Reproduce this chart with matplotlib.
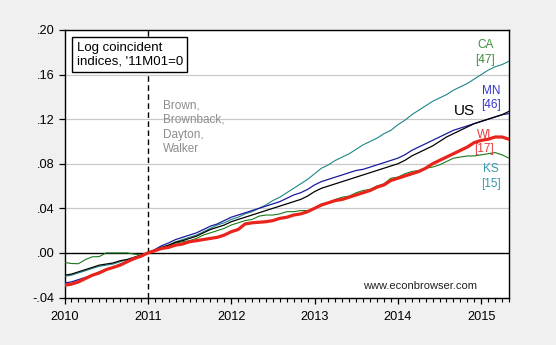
import matplotlib
matplotlib.use("Agg")
import matplotlib.pyplot as plt
from matplotlib.ticker import MultipleLocator, FixedLocator, FuncFormatter
import numpy as np

# Monthly observations 2010M01 .. 2015M05 (65 months)
start_year = 2010
n_months = 65

us = [-0.020, -0.019, -0.017, -0.015, -0.013, -0.011, -0.010, -0.009, -0.007, -0.006, -0.004, -0.002,
      0.000, 0.0025, 0.005, 0.007, 0.0095, 0.011, 0.013, 0.015, 0.018, 0.021, 0.023, 0.025,
      0.028, 0.030, 0.032, 0.034, 0.036, 0.038, 0.040, 0.042, 0.044, 0.046, 0.048, 0.051,
      0.055, 0.058, 0.060, 0.062, 0.064, 0.066, 0.068, 0.070, 0.072, 0.074, 0.076, 0.078,
      0.080, 0.083, 0.087, 0.090, 0.093, 0.096, 0.100, 0.104, 0.107, 0.110, 0.113, 0.116,
      0.118, 0.120, 0.122, 0.124, 0.127]

mn = [-0.027, -0.026, -0.024, -0.022, -0.020, -0.017, -0.015, -0.013, -0.010, -0.008, -0.006, -0.003,
      0.000, 0.003, 0.0065, 0.009, 0.012, 0.014, 0.016, 0.018, 0.021, 0.024, 0.026, 0.029,
      0.032, 0.034, 0.036, 0.038, 0.040, 0.042, 0.044, 0.046, 0.049, 0.052, 0.054, 0.057,
      0.061, 0.064, 0.066, 0.068, 0.070, 0.072, 0.074, 0.075, 0.077, 0.079, 0.081, 0.083,
      0.085, 0.088, 0.092, 0.095, 0.098, 0.101, 0.104, 0.107, 0.110, 0.112, 0.114, 0.116,
      0.118, 0.120, 0.122, 0.124, 0.125]

ca = [-0.021, -0.020, -0.018, -0.016, -0.014, -0.012, -0.011, -0.010, -0.008, -0.006, -0.004, -0.002,
      0.000, 0.0025, 0.005, 0.007, 0.010, 0.012, 0.014, 0.016, 0.019, 0.022, 0.025, 0.027,
      0.030, 0.032, 0.035, 0.037, 0.040, 0.043, 0.047, 0.050, 0.054, 0.058, 0.062, 0.066,
      0.071, 0.076, 0.079, 0.083, 0.086, 0.089, 0.093, 0.097, 0.100, 0.103, 0.107, 0.110,
      0.115, 0.119, 0.124, 0.128, 0.132, 0.136, 0.139, 0.142, 0.146, 0.149, 0.152, 0.156,
      0.160, 0.164, 0.167, 0.169, 0.172]

ks = [-0.0085, -0.0095, -0.0097, -0.006, -0.0035, -0.0033, 0.000, 0.000, 0.000, 0.000, -0.001, -0.002,
      0.000, 0.0025, 0.0045, 0.006, 0.009, 0.010, 0.011, 0.013, 0.016, 0.018, 0.020, 0.022,
      0.025, 0.027, 0.029, 0.030, 0.033, 0.034, 0.034, 0.035, 0.037, 0.037, 0.038, 0.038,
      0.040, 0.044, 0.045, 0.048, 0.050, 0.051, 0.054, 0.056, 0.057, 0.060, 0.062, 0.067,
      0.068, 0.071, 0.073, 0.074, 0.076, 0.077, 0.079, 0.082, 0.085, 0.086, 0.087, 0.087,
      0.088, 0.089, 0.090, 0.088, 0.085]

wi = [-0.029, -0.028, -0.026, -0.023, -0.020, -0.018, -0.015, -0.013, -0.011, -0.008, -0.005, -0.003,
      0.000, 0.002, 0.004, 0.005, 0.007, 0.008, 0.010, 0.011, 0.012, 0.013, 0.014, 0.016,
      0.019, 0.021, 0.026, 0.027, 0.0275, 0.028, 0.029, 0.031, 0.032, 0.034, 0.035, 0.037,
      0.040, 0.043, 0.045, 0.047, 0.048, 0.050, 0.052, 0.054, 0.056, 0.059, 0.061, 0.065,
      0.067, 0.069, 0.071, 0.073, 0.076, 0.080, 0.083, 0.086, 0.089, 0.092, 0.095, 0.099,
      0.101, 0.102, 0.104, 0.104, 0.102]

y_ticks = [-0.04, 0.00, 0.04, 0.08, 0.12, 0.16, 0.20]
x_years = [2010, 2011, 2012, 2013, 2014, 2015]

x = start_year + np.arange(n_months) / 12.0

plt.rcParams['font.family'] = ['Liberation Sans', 'DejaVu Sans']

W, H = 556, 345
fig = plt.figure(figsize=(W / 100, H / 100), dpi=100)
fig.patch.set_facecolor('#f0f0f0')
l, r, t, b = 64.5, 509, 30, 297.5
ax = fig.add_axes([l / W, (H - b) / H, (r - l) / W, (b - t) / H])
ax.set_facecolor('white')

c_ca = '#1f8585'
c_ks = '#1c7a1c'
c_mn = '#1a1aa0'
c_wi = '#e8241c'

for yv in y_ticks:
    if yv != 0:
        ax.axhline(yv, color='#c8c8c8', lw=0.9, zorder=1)
ax.axhline(0, color='black', lw=1.0, zorder=2)
ax.axvline(2011, color='black', lw=1.0, ls=(0, (4, 2.5)), zorder=2)

ax.plot(x, ca, color=c_ca, lw=0.8, zorder=3)
ax.plot(x, ks, color=c_ks, lw=0.8, zorder=3)
ax.plot(x, mn, color=c_mn, lw=0.9, zorder=4)
ax.plot(x, us, color='black', lw=0.9, zorder=4)
ax.plot(x, wi, color=c_wi, lw=2.3, zorder=5)

ax.set_xlim(x[0], x[-1])
ax.set_ylim(-0.04, 0.20)
ax.yaxis.set_major_locator(FixedLocator(y_ticks))

def yfmt(v, pos):
    s = f"{v:.2f}"
    return s.replace("0.", ".")
ax.yaxis.set_major_formatter(FuncFormatter(yfmt))
ax.xaxis.set_major_locator(FixedLocator(x_years))
ax.xaxis.set_major_formatter(FuncFormatter(lambda v, p: f"{int(round(v))}"))
ax.xaxis.set_minor_locator(MultipleLocator(1 / 12))

ax.tick_params(axis='both', which='major', direction='out', length=4, width=0.9,
               labelsize=9.2, color='black', pad=3)
ax.tick_params(axis='x', which='minor', direction='out', length=3, width=0.8)
ax.tick_params(axis='x', which='major', pad=6)
for s in ax.spines.values():
    s.set_color('black')
    s.set_linewidth(1.0)

# Title box
ax.text(0.027, 0.955, "Log coincident\nindices, '11M01=0", transform=ax.transAxes,
        fontsize=9.5, va='top', ha='left', linespacing=1.15, zorder=6,
        bbox=dict(boxstyle='square,pad=0.35', facecolor='white', edgecolor='black', lw=1.0))

ax.text(2011.18, 0.138, "Brown,\nBrownback,\nDayton,\nWalker", fontsize=8.5,
        color='#8c8c8c', va='top', ha='left', linespacing=1.3, zorder=6)

ax.text(2015.05, 0.1915, "CA\n[47]", color='#3f8f3f', fontsize=8.5, ha='center', va='top',
        linespacing=1.3, zorder=6)
ax.text(2015.12, 0.151, "MN\n[46]", color='#3535d0', fontsize=8.5, ha='center', va='top',
        linespacing=1.3, zorder=6)
ax.text(2014.80, 0.127, "US", color='black', fontsize=11, ha='center', va='center', zorder=6)
ax.text(2015.03, 0.1115, "WI\n[17]", color='#e23a3a', fontsize=8.5, ha='center', va='top',
        linespacing=1.3, zorder=6)
ax.text(2015.12, 0.0808, "KS\n[15]", color='#3a9aa8', fontsize=8.5, ha='center', va='top',
        linespacing=1.3, zorder=6)

ax.text(2014.26, -0.030, "www.econbrowser.com", fontsize=8, color='#202020',
        ha='center', va='center', zorder=6)

fig.savefig("out.png", dpi=100, facecolor=fig.get_facecolor())
